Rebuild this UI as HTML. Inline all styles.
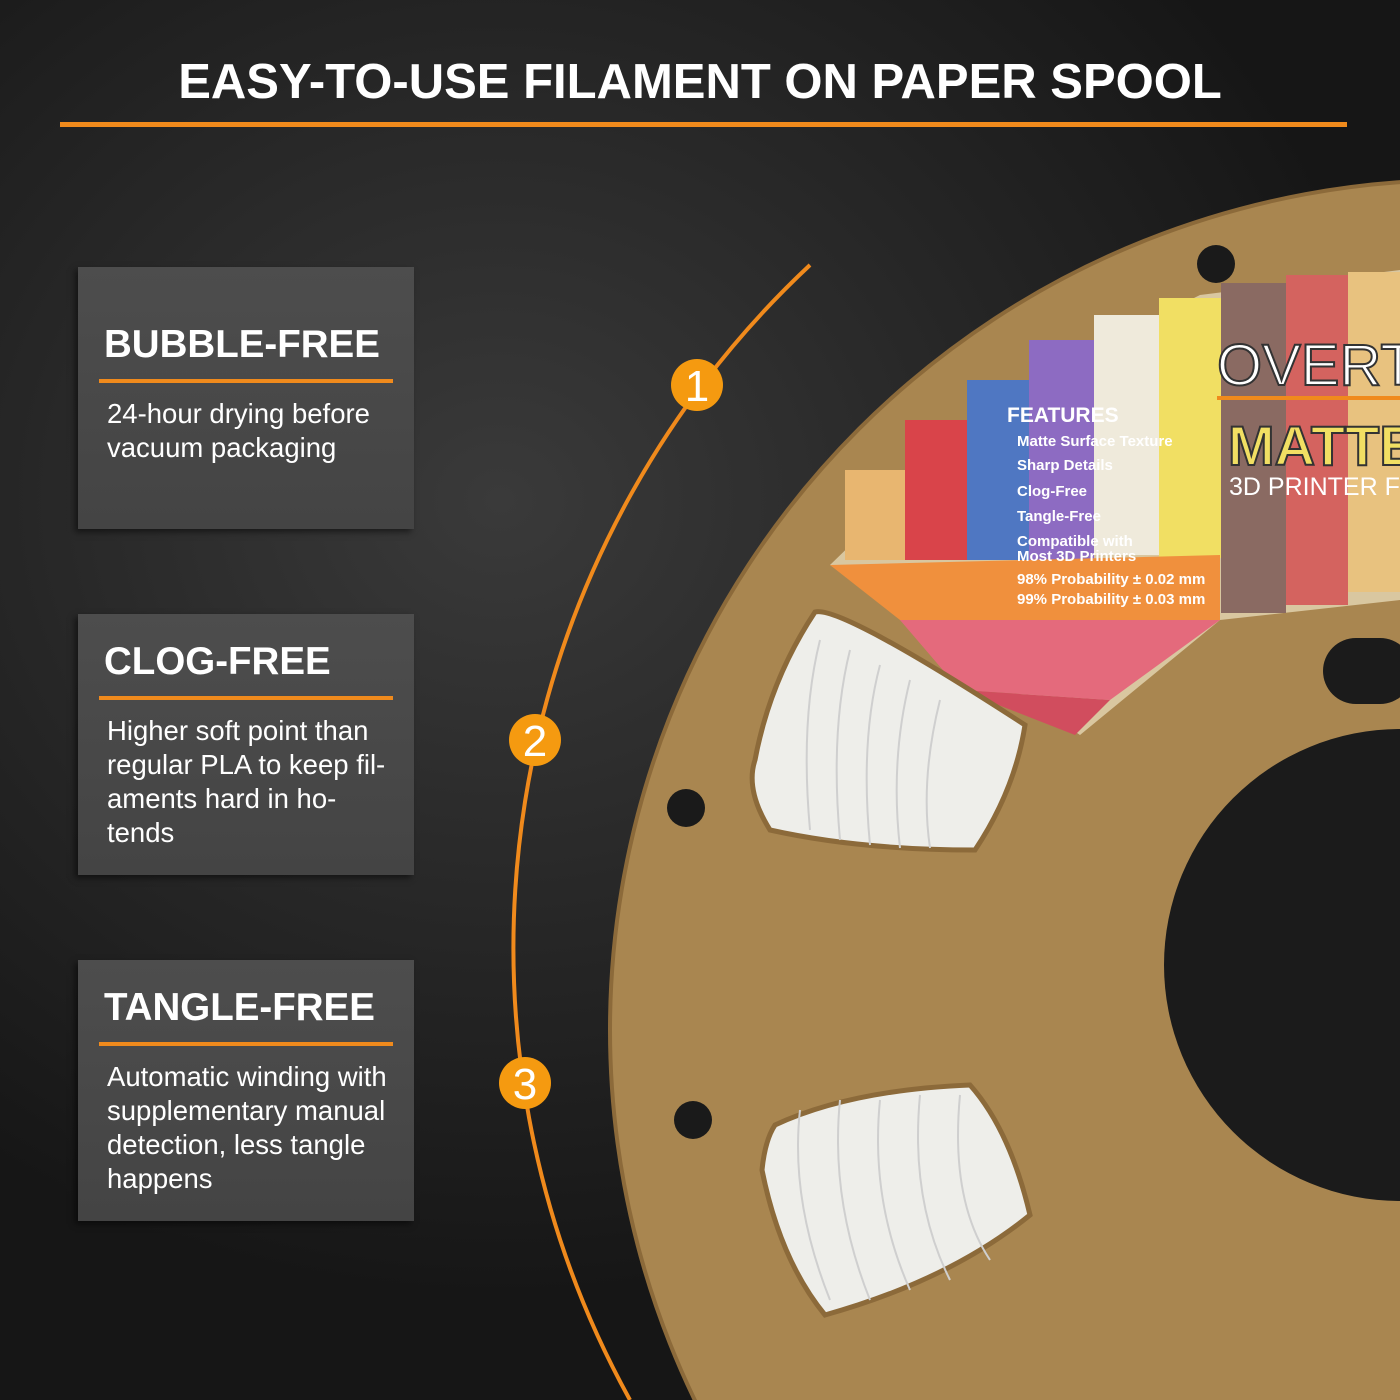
<!DOCTYPE html>
<html><head><meta charset="utf-8"><style>
html,body{margin:0;width:1400px;height:1400px;overflow:hidden}
body{background:#1e1e1e;font-family:"Liberation Sans",sans-serif;position:relative}
#bg{position:absolute;left:0;top:0;width:1400px;height:1400px;background:radial-gradient(ellipse 900px 800px at 500px 500px,#3a3a3a 0%,#262626 55%,#161616 100%)}
.title{position:absolute;top:54px;left:0;width:1400px;text-align:center;color:#fff;font-weight:bold;font-size:49px}
.tline{position:absolute;left:60px;top:122px;width:1287px;height:5px;background:#f08a1c}
.box{position:absolute;left:78px;width:336px;height:262px;background:linear-gradient(180deg,#4d4d4d,#444);box-shadow:-3px 3px 6px rgba(0,0,0,.5)}
.box h2{position:absolute;left:26px;top:56px;margin:0;color:#fff;font-size:38.5px;font-weight:bold;white-space:nowrap}
.box .l{position:absolute;left:21px;top:112px;width:294px;height:4px;background:#f08a1c}
.box p{position:absolute;left:29px;top:130px;margin:0;color:#fff;font-size:27.5px;line-height:34px;width:300px;white-space:nowrap}
svg{position:absolute;left:0;top:0}
</style></head><body>
<div id="bg"></div>
<svg width="1400" height="1400" viewBox="0 0 1400 1400">
<circle cx="1460" cy="1030" r="850" fill="#a98650"/>
<circle cx="1460" cy="1030" r="850" fill="none" stroke="#8c6a3a" stroke-width="4"/>
<path d="M830 565 L1010 390 L1200 295 L1400 270 L1400 600 L1220 620 L1080 735 Z" fill="#d9c7a0"/>
<rect x="845" y="470" width="60" height="90" fill="#e8b670"/>
<rect x="905" y="420" width="62" height="140" fill="#d9444a"/>
<rect x="967" y="380" width="62" height="180" fill="#4f77c2"/>
<rect x="1029" y="340" width="65" height="220" fill="#8d6bc2"/>
<rect x="1094" y="315" width="65" height="240" fill="#efeadb"/>
<rect x="1159" y="298" width="62" height="260" fill="#f1df63"/>
<rect x="1221" y="283" width="65" height="330" fill="#8a6a62"/>
<rect x="1286" y="275" width="62" height="330" fill="#d4635f"/>
<rect x="1348" y="272" width="52" height="320" fill="#e8c27f"/>
<path d="M830 565 L1220 555 L1220 620 L900 620 Z" fill="#f0903d"/>
<path d="M900 620 L1220 620 L1110 700 L960 690 Z" fill="#e46a7c"/>
<path d="M960 690 L1110 700 L1075 735 Z" fill="#d14d5e"/>
<text x="1007" y="422" fill="#fff" font-size="21" font-weight="bold" font-family="Liberation Sans">FEATURES</text>
<g fill="#fff" font-size="15" font-weight="bold" font-family="Liberation Sans">
<text x="1017" y="446">Matte Surface Texture</text><text x="1017" y="470">Sharp Details</text>
<text x="1017" y="496">Clog-Free</text><text x="1017" y="521">Tangle-Free</text>
<text x="1017" y="546">Compatible with</text><text x="1017" y="561">Most 3D Printers</text>
<text x="1017" y="584">98% Probability ± 0.02 mm</text><text x="1017" y="604">99% Probability ± 0.03 mm</text></g>
<text x="1217" y="385" fill="#fff" stroke="#333" stroke-width="2" font-size="58" font-family="Liberation Sans">OVERT</text>
<rect x="1217" y="396" width="183" height="4" fill="#f08a1c"/>
<text x="1228" y="465" fill="#f1df63" stroke="#333" stroke-width="2" font-size="56" font-weight="bold" font-family="Liberation Sans">MATTE</text>
<text x="1229" y="495" fill="#fff" font-size="25" font-family="Liberation Sans">3D PRINTER FI</text>
<circle cx="1400" cy="965" r="236" fill="#1b1b1b"/>
<rect x="1323" y="638" width="90" height="66" rx="33" fill="#1b1b1b"/>
<circle cx="1216" cy="264" r="19" fill="#1a1a1a"/>
<circle cx="686" cy="808" r="19" fill="#1a1a1a"/>
<circle cx="693" cy="1120" r="19" fill="#1a1a1a"/>
<path d="M815 612 Q840 605 1025 725 Q1015 790 975 850 Q860 850 770 830 Q745 790 755 760 Q770 680 815 612 Z" fill="#eeeeea" stroke="#8c6a3a" stroke-width="5"/>
<path d="M775 1125 Q850 1090 970 1085 Q1010 1130 1030 1215 Q950 1280 825 1315 Q780 1260 762 1170 Q765 1140 775 1125 Z" fill="#eeeeea" stroke="#8c6a3a" stroke-width="5"/>
<g stroke="#cfcfcf" stroke-width="2" fill="none">
<path d="M820 640 Q800 720 810 830"/><path d="M850 650 Q830 730 840 840"/><path d="M880 665 Q860 740 870 845"/><path d="M910 680 Q890 760 900 848"/><path d="M940 700 Q920 780 930 848"/>
<path d="M800 1110 Q790 1200 830 1300"/><path d="M840 1100 Q830 1200 870 1300"/><path d="M880 1100 Q870 1200 910 1290"/><path d="M920 1095 Q910 1200 950 1280"/><path d="M960 1095 Q950 1200 990 1260"/></g>
<path d="M810 265 A935 935 0 0 0 630 1400" fill="none" stroke="#f08a1c" stroke-width="4"/>
<g fill="#f59a10"><circle cx="697" cy="385" r="26"/><circle cx="535" cy="740" r="26"/><circle cx="525" cy="1083" r="26"/></g>
<g fill="#fff" font-size="44" font-family="Liberation Sans" text-anchor="middle"><text x="697" y="401">1</text><text x="535" y="756">2</text><text x="525" y="1099">3</text></g>
</svg>
<div class="title">EASY-TO-USE FILAMENT ON PAPER SPOOL</div>
<div class="tline"></div>
<div class="box" style="top:267px"><h2>BUBBLE-FREE</h2><div class="l"></div><p>24-hour drying before<br>vacuum packaging</p></div>
<div class="box" style="top:614px;height:261px"><h2 style="top:26px">CLOG-FREE</h2><div class="l" style="top:82px"></div><p style="top:100px">Higher soft point than<br>regular PLA to keep fil-<br>aments hard in ho-<br>tends</p></div>
<div class="box" style="top:960px;height:261px"><h2 style="top:26px">TANGLE-FREE</h2><div class="l" style="top:82px"></div><p style="top:100px">Automatic winding with<br>supplementary manual<br>detection, less tangle<br>happens</p></div>
</body></html>
